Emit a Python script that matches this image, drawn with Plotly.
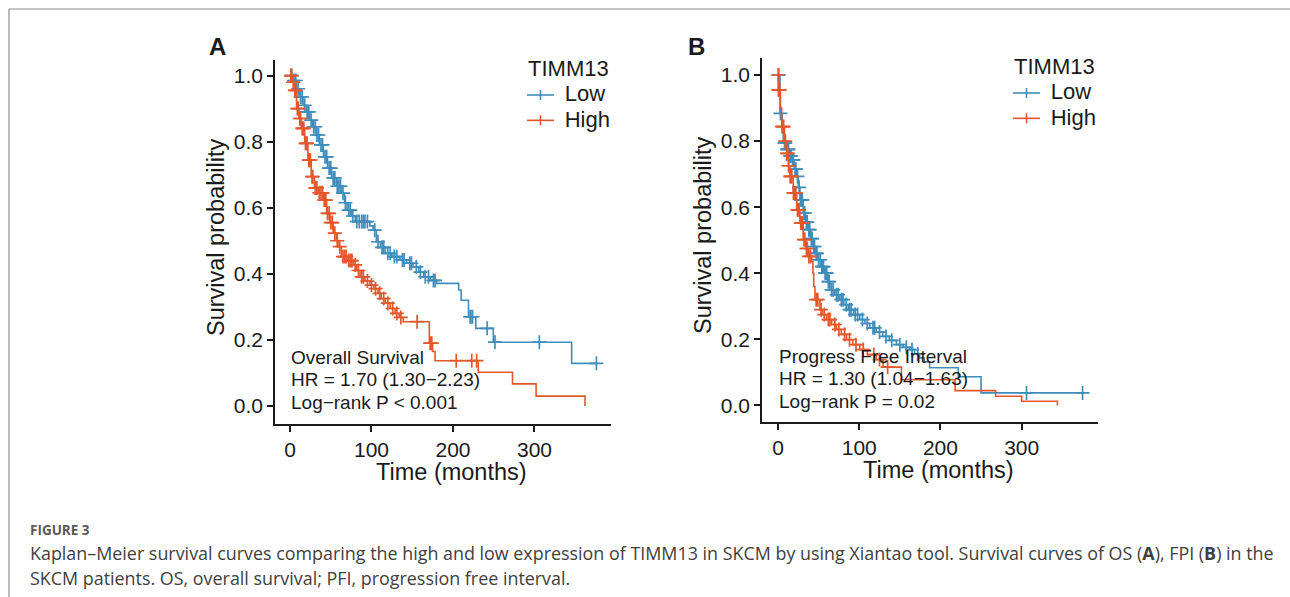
import numpy as np
import plotly.graph_objects as go

W, H = 1290, 597

# ---------------- Data ----------------
# Panel A: Overall Survival
os_low_time = [0, 4, 8, 12, 16, 20, 24, 28, 32, 36, 41, 46, 51, 57, 63, 67, 70, 75, 80, 98, 102, 106, 111,
               117, 125, 135, 143, 151, 158, 164, 172, 180, 207, 210, 219, 228, 249.5, 345.6, 376]
os_low_surv = [1.0, 0.985, 0.96, 0.935, 0.91, 0.89, 0.865, 0.845, 0.82, 0.79, 0.754, 0.72, 0.69, 0.665, 0.644,
               0.615, 0.593, 0.575, 0.558, 0.545, 0.532, 0.497, 0.48, 0.462, 0.452, 0.442, 0.432, 0.421, 0.405,
               0.391, 0.38, 0.371, 0.351, 0.32, 0.27, 0.235, 0.193, 0.129, 0.129]
os_low_censor = [2, 5, 7, 10, 13, 15, 18, 21, 23, 26, 29, 31, 33, 35, 38, 40, 43, 45, 48, 50, 53, 55, 58, 60,
                 62, 65, 68, 72, 74, 77, 82, 85, 88, 90, 92, 95, 104, 108, 113, 115, 120, 123, 128, 131, 138,
                 140, 147, 149, 155, 160, 166, 170, 176, 178, 221, 222, 224, 242, 251.5, 306, 376]

os_high_time = [0, 3, 5, 8, 11, 14, 18, 22, 26, 30, 35, 41, 45, 49, 53, 57, 59, 63, 70, 78, 82, 86, 92, 98,
                103, 108, 112, 117, 123, 129, 134, 139, 171, 175, 178, 231, 273, 302, 362]
os_high_surv = [1.0, 0.98, 0.955, 0.9, 0.87, 0.84, 0.795, 0.744, 0.694, 0.66, 0.645, 0.623, 0.583, 0.555,
                0.523, 0.5, 0.482, 0.452, 0.44, 0.427, 0.41, 0.391, 0.378, 0.366, 0.355, 0.341, 0.325, 0.311,
                0.295, 0.28, 0.268, 0.255, 0.19, 0.165, 0.137, 0.102, 0.067, 0.03, 0.0]
os_high_censor = [1, 2, 4, 6, 7, 9, 10, 12, 13, 15, 16, 17, 19, 20, 21, 23, 24, 25, 27, 28, 31, 32, 33, 36,
                  38, 40, 42, 44, 46, 48, 50, 52, 55, 58, 61, 65, 67, 69, 72, 74, 76, 80, 84, 88, 90, 95, 100,
                  105, 110, 115, 120, 126, 131, 136, 156, 172, 174, 204, 223, 229]

# Panel B: Progress Free Interval
pfi_low_time = [0, 2.5, 5, 6.5, 10, 14, 17, 20, 23, 25, 27, 31, 34, 37, 40, 43.4, 46, 49.5, 53, 57.7, 61, 64,
                70, 76, 81, 86.4, 93, 100.7, 107, 113, 121, 129, 137, 145.8, 154, 162, 168, 174.4, 180, 186.7,
                222, 250, 377]
pfi_low_surv = [1.0, 0.884, 0.84, 0.794, 0.775, 0.755, 0.743, 0.715, 0.693, 0.66, 0.622, 0.582, 0.555, 0.532,
                0.505, 0.481, 0.46, 0.441, 0.42, 0.401, 0.375, 0.35, 0.335, 0.32, 0.305, 0.29, 0.275, 0.26,
                0.248, 0.235, 0.222, 0.209, 0.197, 0.184, 0.176, 0.169, 0.156, 0.144, 0.132, 0.114, 0.087,
                0.038, 0.038]
pfi_low_censor = [1, 3, 8, 9, 11, 12, 13, 15, 16, 18, 19, 21, 22, 24, 26, 28, 29, 30, 32, 33, 35, 36, 38, 39,
                  41, 42, 44, 45, 47, 48, 50, 52, 54, 55, 56, 58, 59, 60, 62, 63, 66, 68, 72, 74, 78, 80, 84,
                  88, 90, 95, 98, 104, 110, 117, 119, 125, 133, 140, 150, 158, 165, 172, 306, 375]

pfi_high_time = [0, 0.5, 3, 4.5, 8, 10.7, 13, 14.7, 18.8, 23, 27, 31, 34, 37.2, 41.4, 43, 44, 45.5, 51.6, 55,
                 59.8, 66, 72, 78, 84.4, 92, 100.7, 110, 121, 129.4, 152, 218, 268, 300, 344]
pfi_high_surv = [1.0, 0.955, 0.9, 0.844, 0.8, 0.763, 0.725, 0.693, 0.643, 0.592, 0.552, 0.502, 0.475, 0.451,
                 0.436, 0.4, 0.36, 0.32, 0.29, 0.275, 0.26, 0.245, 0.23, 0.215, 0.199, 0.184, 0.169, 0.154,
                 0.139, 0.116, 0.078, 0.045, 0.028, 0.013, 0.0]
pfi_high_censor = [0.2, 0.5, 1, 2, 5, 6, 7, 9, 11, 12, 13, 15, 16, 17, 19, 20, 21, 22, 24, 25, 26, 28, 29, 30,
                   32, 33, 35, 36, 38, 40, 47, 49, 53, 57, 62, 64, 70, 75, 82, 88, 96, 105, 118, 125, 135]

group_labels = ["Low", "High"]
legend_title = "TIMM13"
y_ticks = [0.0, 0.2, 0.4, 0.6, 0.8, 1.0]
x_ticks = [0, 100, 200, 300]
panel_a_text = ["Overall Survival", "HR = 1.70 (1.30\u22122.23)", "Log\u2212rank P < 0.001"]
panel_b_text = ["Progress Free Interval", "HR = 1.30 (1.04\u22121.63)", "Log\u2212rank P = 0.02"]

# ---------------- Styling ----------------
BLUE = "#3F8DBA"
RED = "#E3572C"
AXC = "#1a1a1a"
FONT = "Liberation Sans, Arial, sans-serif"


def px(x):
    return x / W


def py(y):
    return 1 - y / H


def step_at(times, survs, t):
    idx = np.searchsorted(np.asarray(times), np.asarray(t), side="right") - 1
    idx = np.clip(idx, 0, len(survs) - 1)
    return np.asarray(survs)[idx]


fig = go.Figure()

panels = [
    ("x", "y", os_low_time, os_low_surv, os_low_censor, os_high_time, os_high_surv, os_high_censor),
    ("x2", "y2", pfi_low_time, pfi_low_surv, pfi_low_censor, pfi_high_time, pfi_high_surv, pfi_high_censor),
]

for xa, ya, lt, ls, lc, ht, hs, hc in panels:
    for t, s, c, col in [(lt, ls, lc, BLUE), (ht, hs, hc, RED)]:
        fig.add_trace(go.Scatter(x=t, y=s, mode="lines", line=dict(color=col, width=1.6, shape="hv"),
                                 xaxis=xa, yaxis=ya, showlegend=False, hoverinfo="skip"))
        fig.add_trace(go.Scatter(x=c, y=step_at(t, s, c), mode="markers",
                                 marker=dict(symbol="cross-thin", size=10, line=dict(color=col, width=1.7)),
                                 xaxis=xa, yaxis=ya, showlegend=False, hoverinfo="skip"))

axis_common = dict(showline=True, linecolor=AXC, linewidth=1.5, ticks="outside", ticklen=6, tickwidth=1.5,
                   tickcolor=AXC, showgrid=False, zeroline=False, tickfont=dict(family=FONT, size=21, color=AXC))

# Panel geometry (pixels): A y-axis at x=275, x-axis at y=424; B y-axis at x=762, x-axis at y=422
fig.update_layout(
    xaxis=dict(domain=[px(275), px(611)], range=[-18.4, 393.9], tickvals=x_ticks, anchor="y", **axis_common),
    yaxis=dict(domain=[py(424), py(60)], range=[-0.0545, 1.047], tickvals=y_ticks,
               ticktext=[f"{v:.1f}" for v in y_ticks], anchor="x", **axis_common),
    xaxis2=dict(domain=[px(762), px(1098)], range=[-19.7, 394], tickvals=x_ticks, anchor="y2", **axis_common),
    yaxis2=dict(domain=[py(422), py(58)], range=[-0.05, 1.0514], tickvals=y_ticks,
                ticktext=[f"{v:.1f}" for v in y_ticks], anchor="x2", **axis_common),
)

annotations = []
shapes = []


def ann(text, x, y, size, xanchor="left", yanchor="middle", textangle=0, color=AXC, family=FONT, align="left"):
    annotations.append(dict(text=text, x=px(x), y=py(y), xref="paper", yref="paper", showarrow=False,
                            xanchor=xanchor, yanchor=yanchor, textangle=textangle, align=align,
                            font=dict(family=family, size=size, color=color)))


# Panel labels
ann("<b>A</b>", 217, 46, 24, xanchor="center")
ann("<b>B</b>", 696, 46, 24, xanchor="center")

# Axis titles
ann("Survival probability", 216, 238, 23.5, xanchor="center", textangle=-90)
ann("Survival probability", 703, 236, 23.5, xanchor="center", textangle=-90)
ann("Time (months)", 451, 472, 23.5, xanchor="center")
ann("Time (months)", 938, 470, 23.5, xanchor="center")

# Legends: one text block per panel (title + indented entries), symbols drawn as shapes
LEG_FS = 22
BASE_FS = 19.5
LINE_H = BASE_FS * 1.3  # Plotly line spacing
indent = "\u00a0" * 6
for (lx, lmid) in [(526, 94), (1012, 92)]:
    text = "<br>".join(
        [f'<span style="font-size:{LEG_FS}px">{legend_title}</span>'] +
        [f'<span style="font-size:{LEG_FS}px">{indent}{lab}</span>' for lab in group_labels])
    ann(text, lx, lmid, BASE_FS, yanchor="middle")
    for i, col in enumerate([BLUE, RED]):
        yy = lmid + LINE_H * i + 1
        shapes.append(dict(type="line", xref="paper", yref="paper", x0=px(lx + 1), x1=px(lx + 28),
                           y0=py(yy), y1=py(yy), line=dict(color=col, width=1.6)))
        shapes.append(dict(type="line", xref="paper", yref="paper", x0=px(lx + 14.5), x1=px(lx + 14.5),
                           y0=py(yy - 5), y1=py(yy + 5), line=dict(color=col, width=1.6)))

# Statistics text
for i, line in enumerate(panel_a_text):
    ann(line, 289, 357 + 22.5 * i, 19)
for i, line in enumerate(panel_b_text):
    ann(line, 777, 356 + 22.5 * i, 19)

# Caption
CAP = "Open Sans, sans-serif"
ann("<b>FIGURE 3</b>", 28, 530, 13.5, color="#5a5a5a", family=CAP)
ann("Kaplan\u2013Meier survival curves comparing the high and low expression of TIMM13 in SKCM by using Xiantao "
    "tool. Survival curves of OS (<b>A</b>), FPI (<b>B</b>) in the", 28, 553, 17.9, color="#404040", family=CAP)
ann("SKCM patients. OS, overall survival; PFI, progression free interval.", 28, 578, 17.9, color="#404040",
    family=CAP)

# Frame lines
shapes.append(dict(type="line", xref="paper", yref="paper", x0=px(9), x1=1, y0=py(9), y1=py(9),
                   line=dict(color="#8c8c8c", width=1.2)))
shapes.append(dict(type="line", xref="paper", yref="paper", x0=px(9), x1=px(9), y0=py(9), y1=0,
                   line=dict(color="#8c8c8c", width=1.2)))

fig.update_layout(width=W, height=H, margin=dict(l=0, r=0, t=0, b=0), paper_bgcolor="white",
                  plot_bgcolor="white", annotations=annotations, shapes=shapes, showlegend=False)

fig.write_html("out.html")
